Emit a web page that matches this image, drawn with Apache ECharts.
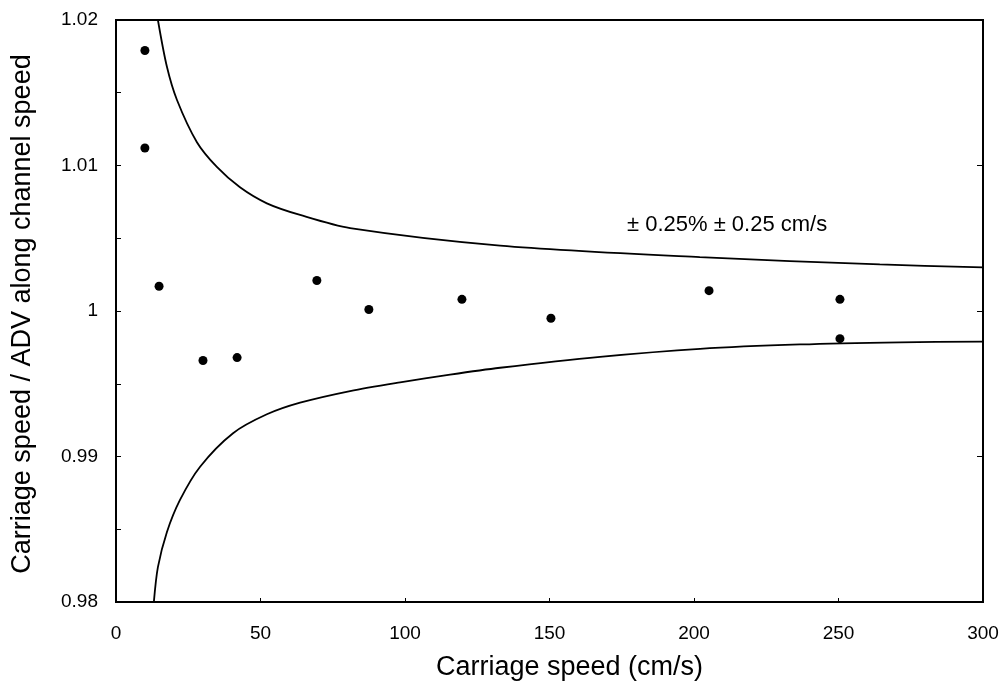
<!DOCTYPE html>
<html>
<head>
<meta charset="utf-8">
<script src="https://cdn.jsdelivr.net/npm/echarts@6/dist/echarts.min.js"></script>
<style>
html,body{margin:0;padding:0;background:#fff;}
#chart{width:1008px;height:691px;}
</style>
</head>
<body>
<div id="chart"></div>
<script>
// Measured points
const speedX = [10, 10, 14.9, 30.1, 41.9, 69.5, 87.5, 119.7, 150.5, 205.2, 250.5, 250.5];
const ratioY = [1.0179, 1.0112, 1.0017, 0.9966, 0.9968, 1.0021, 1.0001, 1.0008, 0.9995, 1.0014, 1.0008, 0.9981];

// Upper bound curve
const upperX = [14.5, 17.6, 21.1, 28.0, 34.9, 42.9, 52.2, 63.7, 81.0, 132.9, 202, 264.3, 300];
const upperY = [1.0200, 1.0168, 1.0145, 1.0116, 1.0099, 1.0085, 1.0074, 1.0066, 1.0057, 1.0045, 1.0037, 1.0032, 1.0030];

// Lower bound curve
const lowerX = [13.1, 14.5, 17.6, 22.1, 29.1, 40.5, 52.2, 63.7, 81.0, 98.3, 115.6, 132.9, 167.5, 202.1, 236.7, 271.3, 300];
const lowerY = [0.9800, 0.9824, 0.9848, 0.9870, 0.9893, 0.9916, 0.9929, 0.9937, 0.9945, 0.9951, 0.99563, 0.9961, 0.99685, 0.9974, 0.9977, 0.99785, 0.9979];

const annotation = '\u00b1 0.25% \u00b1 0.25 cm/s';

const zip = (a, b) => a.map((v, i) => [v, b[i]]);
const fam = '"Liberation Sans", Arial, Helvetica, sans-serif';

const chart = echarts.init(document.getElementById('chart'), null, {renderer: 'canvas'});
const yFmt = v => { const r = Math.round(v * 100) / 100; return r === 1 ? '1' : r.toFixed(2); };

chart.setOption({
  animation: false,
  backgroundColor: '#fff',
  grid: {left: 116, right: 25, top: 20, bottom: 89, show: true, borderColor: '#000', borderWidth: 2},
  xAxis: {
    type: 'value', min: 0, max: 300, interval: 50,
    name: 'Carriage speed (cm/s)', nameLocation: 'middle', nameGap: 52,
    nameTextStyle: {fontFamily: fam, fontSize: 27, color: '#000', padding: [0, 0, 0, 40]},
    axisLine: {show: true, lineStyle: {color: '#000', width: 2}},
    axisTick: {show: true, inside: true, length: 4, lineStyle: {color: '#000'}},
    axisLabel: {fontFamily: fam, fontSize: 19, color: '#000', margin: 22},
    splitLine: {show: false}
  },
  yAxis: [{
    type: 'value', min: 0.98, max: 1.02, interval: 0.01,
    name: 'Carriage speed / ADV along channel speed', nameLocation: 'middle', nameGap: 80,
    nameTextStyle: {fontFamily: fam, fontSize: 27, color: '#000', padding: [0, 6, 0, 0]},
    axisLine: {show: true, lineStyle: {color: '#000', width: 2}},
    axisTick: {show: true, inside: true, length: 5, lineStyle: {color: '#000'}},
    minorTick: {show: true, splitNumber: 2, length: 5, lineStyle: {color: '#000'}},
    axisLabel: {fontFamily: fam, fontSize: 19, color: '#000', margin: 18, formatter: yFmt},
    splitLine: {show: false}
  }, {
    type: 'value', min: 0.98, max: 1.02, interval: 0.01, position: 'right',
    axisLine: {show: true, lineStyle: {color: '#000', width: 2}},
    axisTick: {show: true, inside: true, length: 6, lineStyle: {color: '#000'}},
    axisLabel: {show: false},
    splitLine: {show: false}
  }],
  series: [
    {type: 'line', data: zip(upperX, upperY), smooth: 0.3, showSymbol: false, symbol: 'none',
     lineStyle: {color: '#000', width: 1.8}, z: 2},
    {type: 'line', data: zip(lowerX, lowerY), smooth: 0.3, showSymbol: false, symbol: 'none',
     lineStyle: {color: '#000', width: 1.8}, z: 2},
    {type: 'scatter', data: zip(speedX, ratioY), symbol: 'circle', symbolSize: 9,
     itemStyle: {color: '#000', opacity: 1}, z: 3}
  ],
  graphic: [{
    type: 'text', left: 627, top: 214,
    style: {text: annotation, font: '22px ' + fam, fill: '#000'}
  }]
});
</script>
</body>
</html>
